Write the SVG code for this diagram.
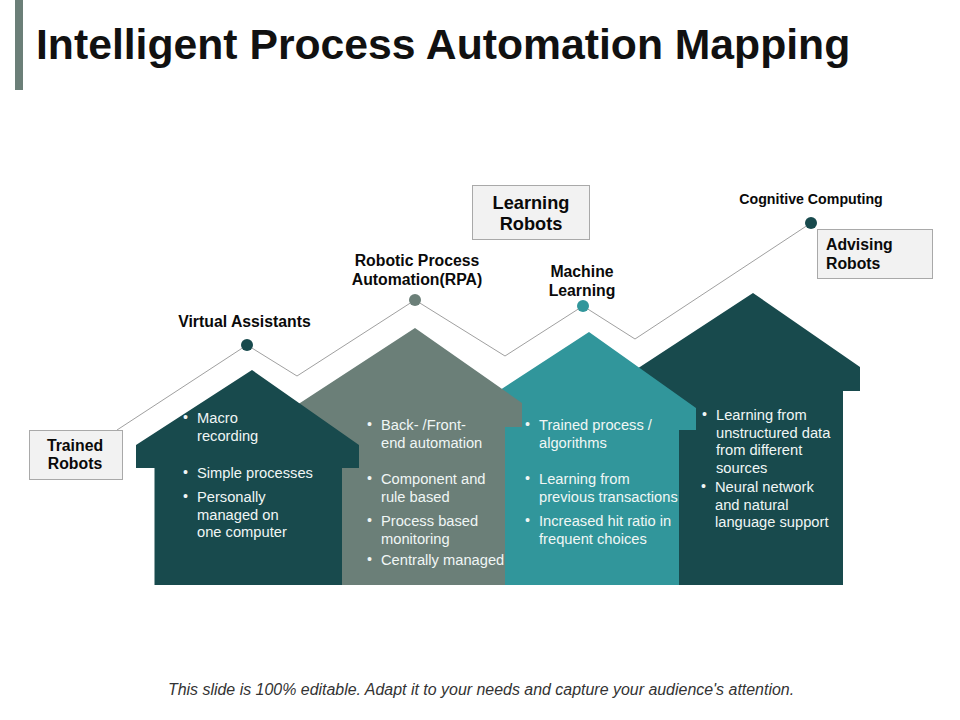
<svg xmlns="http://www.w3.org/2000/svg" width="960" height="720" viewBox="0 0 960 720">
<style>
text{font-family:"Liberation Sans",Arial,sans-serif}
.t{font-size:14.7px;fill:#f0f6f5}
.b{font-size:14.2px;fill:#f0f6f5}
.h{font-size:15.800px;font-weight:bold;fill:#0a0a0a;text-anchor:middle}
.box{fill:#f2f2f2;stroke:#a9a9a9;stroke-width:1}
.line{fill:none;stroke:#a0a0a0;stroke-width:1}
.dark{fill:#184a4d}.gray{fill:#6b7f78}.teal{fill:#31969b}
</style>
<rect id="title-bar" class="gray" x="15" y="0" width="8" height="90"/>
<text id="title" x="36" y="59" font-size="42.700" font-weight="bold" fill="#111">Intelligent Process Automation Mapping</text>
<g id="connectors"><polyline class="line" points="117,430 247,345 297,376 415,300 505,356 583,306 635,339 811,223"/></g>
<g id="house-4"><path class="dark" d="M753,293L860,367V391H843V585H679V430L620,380Z"/>
<text class="b" x="702" y="419">•</text><text class="t" x="716" y="420">Learning from</text><text class="t" x="716" y="438">unstructured data</text><text class="t" x="716" y="455">from different</text><text class="t" x="716" y="473">sources</text>
<text class="b" x="701" y="491">•</text><text class="t" x="715" y="492">Neural network</text><text class="t" x="715" y="510">and natural</text><text class="t" x="715" y="527">language support</text></g>
<g id="house-3"><path class="teal" d="M589,332L696,408V430H679V585H505V427L480,403Z"/>
<text class="b" x="525" y="429">•</text><text class="t" x="539" y="430">Trained process /</text><text class="t" x="539" y="448">algorithms</text>
<text class="b" x="525" y="483">•</text><text class="t" x="539" y="484">Learning from</text><text class="t" x="539" y="502">previous transactions</text>
<text class="b" x="525" y="525">•</text><text class="t" x="539" y="526">Increased hit ratio in</text><text class="t" x="539" y="544">frequent choices</text></g>
<g id="house-2"><path class="gray" d="M415,328L522,403V427H505V585H342V468L290,409.500Z"/>
<text class="b" x="367" y="429">•</text><text class="t" x="381" y="430">Back- /Front-</text><text class="t" x="381" y="448">end automation</text>
<text class="b" x="367" y="483">•</text><text class="t" x="381" y="484">Component and</text><text class="t" x="381" y="502">rule based</text>
<text class="b" x="367" y="525">•</text><text class="t" x="381" y="526">Process based</text><text class="t" x="381" y="544">monitoring</text>
<text class="b" x="367" y="564">•</text><text class="t" x="381" y="565">Centrally managed</text></g>
<g id="house-1"><path class="dark" d="M252,370L359,445V468H342V585H154.500V468H136V445Z"/>
<text class="b" x="183" y="422">•</text><text class="t" x="197" y="423">Macro</text><text class="t" x="197" y="441">recording</text>
<text class="b" x="183" y="477">•</text><text class="t" x="197" y="478">Simple processes</text>
<text class="b" x="183" y="501">•</text><text class="t" x="197" y="502">Personally</text><text class="t" x="197" y="520">managed on</text><text class="t" x="197" y="537">one computer</text></g>
<g id="trained-robots"><rect class="box" x="29.500" y="430.500" width="93" height="49"/><text class="h" x="75" y="451">Trained</text><text class="h" x="75" y="469">Robots</text></g>
<g id="learning-robots"><rect class="box" x="472.500" y="185.500" width="117" height="54"/><text class="h" style="font-size:18.200px" x="531" y="209">Learning</text><text class="h" style="font-size:18.200px" x="531" y="230">Robots</text></g>
<g id="advising-robots"><rect class="box" x="817.500" y="229.500" width="115" height="49"/><text class="h" style="text-anchor:start" x="826" y="250">Advising</text><text class="h" style="text-anchor:start" x="826" y="269">Robots</text></g>
<g id="virtual-assistants"><circle class="dark" cx="247" cy="345" r="6"/><text class="h" x="244.500" y="327">Virtual Assistants</text></g>
<g id="rpa"><circle class="gray" cx="415" cy="300" r="6"/><text class="h" x="417" y="266">Robotic Process</text><text class="h" x="417" y="285">Automation(RPA)</text></g>
<g id="machine-learning"><circle class="teal" cx="583" cy="306" r="6"/><text class="h" x="582" y="277">Machine</text><text class="h" x="582" y="296">Learning</text></g>
<g id="cognitive-computing"><circle class="dark" cx="811" cy="223" r="6"/><text class="h" style="font-size:14.200px" x="811" y="204">Cognitive Computing</text></g>
<text id="footer" x="481" y="695" font-size="15.950" font-style="italic" fill="#333" text-anchor="middle">This slide is 100% editable. Adapt it to your needs and capture your audience's attention.</text>
</svg>
